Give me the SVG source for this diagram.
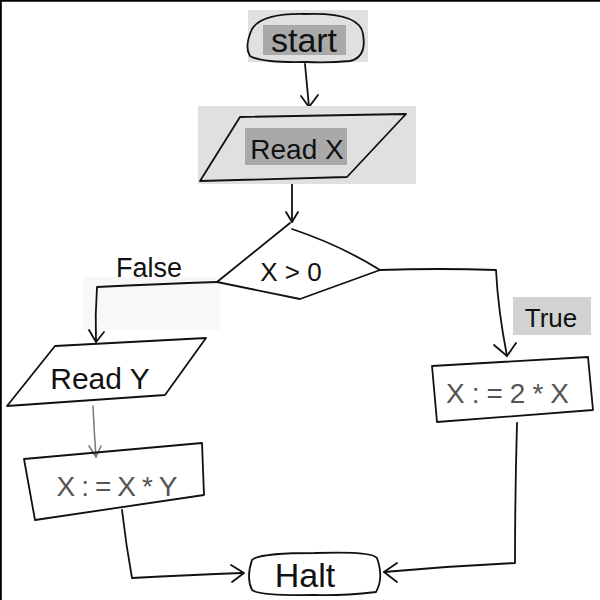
<svg xmlns="http://www.w3.org/2000/svg" width="600" height="600" viewBox="0 0 600 600">
<defs>
<style>
.s{fill:none;stroke:#111;stroke-width:1.8;stroke-linecap:round;stroke-linejoin:round}
.g{fill:none;stroke:#777;stroke-width:1.5;stroke-linecap:round;stroke-linejoin:round}
.t{font-family:"Liberation Sans","DejaVu Sans",sans-serif;fill:#111;text-anchor:middle}
.tg{font-family:"Liberation Sans","DejaVu Sans",sans-serif;fill:#555;text-anchor:middle}
.hl{fill:#e0e0e0}
.hd{fill:#a9a9a9}
</style>
</defs>
<rect width="600" height="600" fill="#fff"/>
<path d="M0.8,0 V600 M0,0.8 H600" stroke="#000" stroke-width="2"/>
<rect x="83" y="277" width="137" height="53" fill="#f8f8f8"/>
<g id="connectors">
<path class="s" d="M305,64 Q307,86 309,107"/>
<path class="s" d="M301,96 L309,107 L318,95"/>
<path class="s" d="M292,184 L292,222"/>
<path class="s" d="M286,212 L292,222 L298,212"/>
<path class="s" d="M217,282 Q160,284 97,287 Q95,315 96,342"/>
<path class="s" d="M89,330 L96,342 L104,332"/>
<path class="s" d="M380,270 Q440,268 496,270 Q498,310 507,356"/>
<path class="s" d="M494,345 L507,356 L516,343"/>
<path class="g" d="M93,406 Q94,430 96,457"/>
<path class="g" d="M89,446 L96,457 L101,446"/>
<path class="s" d="M122,510 Q126,545 132,578 Q190,575 242,573"/>
<path class="s" d="M231,565 L244,573 L232,582"/>
<path class="s" d="M517,423 Q515,495 515,563 Q450,566 384,572"/>
<path class="s" d="M397,563 L384,572 L397,582"/>
</g>
<g id="start">
<rect class="hl" x="248" y="10" width="120" height="52"/>
<rect class="hd" x="263" y="25" width="83" height="30"/>
<path class="s" d="M252,29 Q262,13 305,14 Q360,12 363,34 Q367,57 350,61 Q330,63 305,62 Q262,63 250,56 Q244,47 252,29"/>
<text class="t" x="304" y="52" font-size="34">start</text>
</g>
<g id="readx">
<rect class="hl" x="198" y="106" width="218" height="78"/>
<rect class="hd" x="245" y="128" width="102" height="37"/>
<path class="s" d="M240,117 L406,114 L347,177 L200,181 Z"/>
<text class="t" x="297" y="159" font-size="28">Read X</text>
</g>
<g id="decision">
<path class="s" d="M290,223 L217,282 L300,299 L380,270 Q340,245 292,229"/>
<text class="t" x="291" y="281" font-size="26">X &gt; 0</text>
</g>
<g id="false">
<text class="t" x="149" y="277" font-size="27">False</text>
</g>
<g id="true">
<rect x="513" y="297" width="78" height="38" fill="#d3d3d3"/>
<text class="t" x="551" y="327" font-size="26">True</text>
</g>
<g id="ready">
<path class="s" d="M55,346 L206,338 L165,395 L7,406 Z"/>
<text class="t" x="100" y="389" font-size="30">Read Y</text>
</g>
<g id="xxy">
<path class="s" stroke="#333" d="M24,459 L202,443 L204,495 L35,520 Z"/>
<text class="tg" x="120" y="496" font-size="28" letter-spacing="6">X:=X*Y</text>
</g>
<g id="x2x">
<path class="s" d="M432,366 L588,357 L593,410 L437,422 Z"/>
<text class="tg" x="511" y="403" font-size="28" letter-spacing="7" fill="#444">X:=2*X</text>
</g>
<g id="halt">
<path class="s" d="M252,560 Q258,553 315,553 Q372,551 377,558 Q384,578 376,592 Q340,596 315,595 Q260,596 252,590 Q246,578 252,560"/>
<text class="t" x="305" y="587" font-size="34">Halt</text>
</g>
</svg>
